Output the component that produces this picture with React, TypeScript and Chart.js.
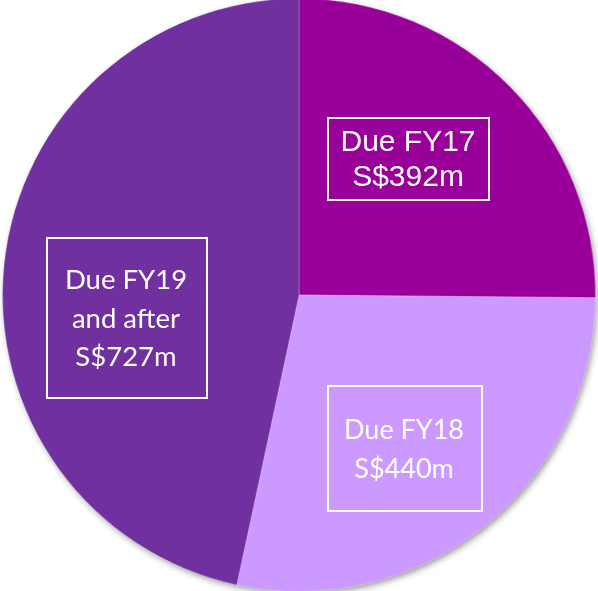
import React, { useEffect, useRef } from "react";
import { Chart, registerables } from "chart.js";

Chart.register(...registerables);

const categories = ["Due FY17", "Due FY18", "Due FY19 and after"];
const values = [392, 440, 727];
const valueLabels = ["S$392m", "S$440m", "S$727m"];
const labelLines = [
  ["Due FY17", "S$392m"],
  ["Due FY18", "S$440m"],
  ["Due FY19", "and after", "S$727m"],
];
const colors = ["#990099", "#CC99FF", "#7030A0"];

// box geometry (layout only)
const boxes = [
  { x: 328, y: 118, w: 161, h: 82, font: "30px 'Liberation Sans', Arial, sans-serif", lh: 35, cx: 408 },
  { x: 328, y: 386, w: 154, h: 125, font: "27px Lato, 'Open Sans', sans-serif", lh: 39, cx: 404 },
  { x: 47, y: 238, w: 160, h: 160, font: "27.5px Lato, 'Open Sans', sans-serif", lh: 38.5, cx: 126 },
];

const shadowPlugin = {
  id: "pieShadow",
  beforeDatasetsDraw(chart: any) {
    const meta = chart.getDatasetMeta(0);
    const arc = meta.data[0];
    if (!arc) return;
    const { x, y, outerRadius } = arc.getProps(["x", "y", "outerRadius"], true);
    const ctx = chart.ctx;
    ctx.save();
    ctx.shadowColor = "rgba(0,0,0,0.45)";
    ctx.shadowBlur = 7;
    ctx.shadowOffsetX = 2;
    ctx.shadowOffsetY = 3;
    ctx.fillStyle = "#7030A0";
    ctx.beginPath();
    ctx.arc(x, y, outerRadius - 1, 0, Math.PI * 2);
    ctx.fill();
    ctx.restore();
  },
};

const boxPlugin = {
  id: "boxLabels",
  afterDatasetsDraw(chart: any) {
    const ctx = chart.ctx;
    const top = chart.canvas.getBoundingClientRect().top;
    ctx.save();
    boxes.forEach((b, i) => {
      const oy = -top; // convert page coords to canvas coords
      ctx.strokeStyle = "#ffffff";
      ctx.lineWidth = 2;
      ctx.strokeRect(b.x, b.y + oy, b.w, b.h);
      ctx.fillStyle = "#ffffff";
      ctx.font = b.font;
      ctx.textAlign = "center";
      ctx.textBaseline = "middle";
      const lines = labelLines[i];
      const midY = b.y + b.h / 2 + oy;
      const startY = midY - ((lines.length - 1) * b.lh) / 2;
      lines.forEach((t, j) => ctx.fillText(t, b.cx, startY + j * b.lh + 1));
    });
    ctx.restore();
  },
};

export default function App() {
  const ref = useRef<HTMLCanvasElement>(null);
  useEffect(() => {
    if (!ref.current) return;
    const chart = new Chart(ref.current, {
      type: "pie",
      data: {
        labels: categories,
        datasets: [
          {
            data: values,
            backgroundColor: colors,
            borderWidth: 1,
            borderColor: "rgba(255,255,255,0.25)",
          },
        ],
      },
      options: {
        animation: false,
        responsive: true,
        maintainAspectRatio: false,
        layout: { padding: 0 },
        plugins: {
          legend: { display: false },
          tooltip: { enabled: false },
        },
      },
      plugins: [shadowPlugin, boxPlugin],
    });
    return () => chart.destroy();
  }, []);
  return (
    <div
      style={{
        position: "fixed",
        left: 0,
        top: -2,
        width: 598,
        height: 594,
        background: "#ffffff",
      }}
      data-values={valueLabels.join(",")}
    >
      <canvas ref={ref} />
    </div>
  );
}
